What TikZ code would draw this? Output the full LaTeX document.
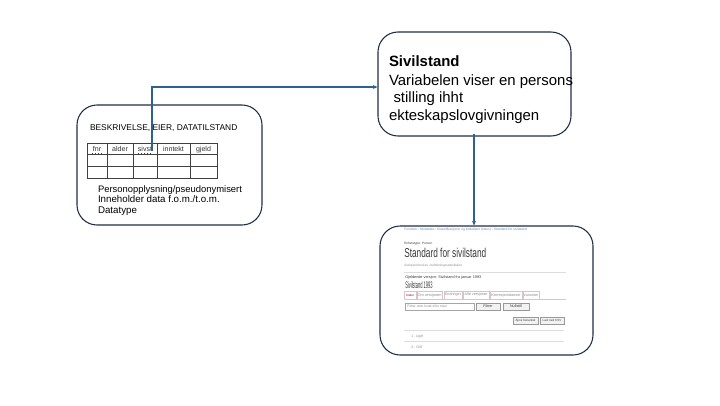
\documentclass[tikz,border=0pt]{standalone}
\usepackage{fontspec}
\usepackage{graphicx}
\setmainfont{Liberation Sans}
\usetikzlibrary{arrows.meta,decorations.pathmorphing}
\definecolor{navy}{HTML}{1F2F47}
\definecolor{arrowblue}{HTML}{2F6190}
\definecolor{shotgrey}{HTML}{8C8C8C}
\definecolor{shotdark}{HTML}{3A3A3A}
\definecolor{linkblue}{HTML}{7088A8}
\definecolor{tabline}{HTML}{D8C4CC}
\definecolor{rule}{HTML}{DDDDDD}
\newcommand{\fitw}[2]{\resizebox{#1}{!}{#2}}
\tikzset{
  panel/.style={draw=navy, line width=0.8pt, rounded corners=15pt, fill=white},
  conn/.style={draw=arrowblue, line width=0.8pt, -{Stealth[length=3.5pt,width=3pt]}},
  lbl/.style={anchor=base west, inner sep=0pt, outer sep=0pt},
  cell/.style={draw=black!75, line width=0.45pt},
  shottxt/.style={anchor=base west, inner sep=0pt, text=shotgrey},
  tabbox/.style={draw=tabline, line width=0.35pt},
  btn/.style={draw=black!40, fill=black!5, line width=0.35pt},
  spell/.style={draw=red!80!black, line width=0.3pt, dotted}
}
\begin{document}
\begin{tikzpicture}[x=0.75pt,y=-0.75pt]
\useasboundingbox (0,0) rectangle (720,405);
\fill[white] (0,0) rectangle (720,405);

% panels
\node[panel, minimum width=138.75pt, minimum height=90pt, inner sep=0pt] (box1) at (169.5,165) {};
\node[panel, minimum width=144.75pt, minimum height=78pt, inner sep=0pt] (box2) at (474.5,84) {};
\node[panel, minimum width=159.75pt, minimum height=96.75pt, inner sep=0pt] (box3) at (486.5,290.5) {};

% box 1 contents
\node[lbl, font=\fontsize{6.3pt}{7pt}\selectfont] (t1) at (90,130) {BESKRIVELSE, EIER, DATATILSTAND};
\draw[cell] (87,143) rectangle (217,178);
\draw[cell] (87,154) -- (217,154) (87,166) -- (217,166);
\draw[cell] (107,143) -- (107,178) (133,143) -- (133,178) (157,143) -- (157,178) (190,143) -- (190,178);
\begin{scope}[every node/.style={anchor=base, inner sep=0pt, font=\fontsize{5.3pt}{6pt}\selectfont, text=black!80}]
\node (h1) at (97,151.5) {fnr};
\node (h2) at (120,151.5) {alder};
\node (h3) at (145,151.5) {sivst};
\node (h4) at (173.5,151.5) {inntekt};
\node (h5) at (203.5,151.5) {gjeld};
\end{scope}
\draw[spell] (92,153) -- (102,153);
\draw[spell] (138,153) -- (152,153);
\begin{scope}[every node/.style={lbl, font=\fontsize{7.3pt}{8pt}\selectfont}]
\node (d1) at (98,192.5) {\fitw{108pt}{Personopplysning/pseudonymisert}};
\node (d2) at (98,202.8) {Inneholder data f.o.m./t.o.m.};
\node (d3) at (98,213) {Datatype};
\end{scope}

% box 2 contents
\begin{scope}[every node/.style={lbl, font=\fontsize{11.2pt}{13pt}\selectfont}]
\node[font=\fontsize{11.2pt}{13pt}\selectfont\bfseries] (s0) at (389,66) {Sivilstand};
\node (s1) at (389,85.5) {Variabelen viser en persons};
\node (s2) at (393.5,102.5) {stilling ihht};
\node (s3) at (389,120) {ekteskapslovgivningen};
\end{scope}

% box 3 contents (screenshot)
\node[shottxt, text=linkblue] (b1) at (404,230) {\fitw{92pt}{Forsiden › Metadata › Klassifikasjoner og kodelister (klass) › Standard for sivilstand}};
\node[shottxt, text=shotdark] (b2) at (404,244) {\fitw{21pt}{Enhetstype: Person}};
\node[shottxt, text=shotdark] (b3) at (404,257.5) {\resizebox{61.5pt}{7pt}{Standard for sivilstand}};
\node[shottxt] (b4) at (404,266) {\fitw{44pt}{Sivilstand brukes i befolkningsstatistikken.}};
\draw[rule, line width=0.4pt] (404,272) -- (566,272);
\node[shottxt, text=shotdark] (b5) at (405,278.5) {\fitw{57pt}{Gjeldende versjon: Sivilstand fra januar 1993}};
\node[shottxt, text=shotdark] (b6) at (405,288) {\resizebox{20.5pt}{5.2pt}{Sivilstand 1993}};
% tabs
\draw[tabline, line width=0.4pt] (404,299) -- (566,299);
\begin{scope}[every node/.style={anchor=center, inner sep=0pt, text=shotgrey}]
\draw[tabbox] (404,291) rectangle (416,299); \node[text=red!60!black] (k1) at (410,295) {\fitw{6pt}{Koder}};
\draw[tabbox] (417,291) rectangle (442,299); \node (k2) at (429.5,295) {\fitw{18pt}{Om versjonen}};
\draw[tabbox] (444,291) rectangle (462,299); \node (k3) at (453,295) {\fitw{12pt}{Endringer}};
\draw[tabbox] (463,291) rectangle (489,299); \node (k4) at (476,295) {\fitw{17pt}{Alle versjoner}};
\draw[tabbox] (490,291) rectangle (522,299); \node (k5) at (506,295) {\fitw{22pt}{Korrespondanser}};
\draw[tabbox] (523,291) rectangle (539,299); \node (k6) at (531,295) {\fitw{11pt}{Varianter}};
% filter row
\draw[draw=black!35, line width=0.35pt] (405,303) rectangle (474,310);
\node[anchor=west] (f0) at (407,306.5) {\fitw{30pt}{Filtrer etter kode eller navn}};
\draw[btn] (476,303) rectangle (500,310); \node[text=shotdark] (f1) at (488,306.5) {\fitw{7pt}{Filtrer}};
\draw[btn] (503,303) rectangle (529,310); \node[text=shotdark] (f2) at (516,306.5) {\fitw{9pt}{Nullstill}};
\draw[btn] (513,317) rectangle (538,324); \node[text=shotdark] (f3) at (525.5,320.5) {\fitw{15pt}{Åpne hierarkiet}};
\draw[btn] (540,317) rectangle (564,324); \node[text=shotdark] (f4) at (552,320.5) {\fitw{14pt}{Last ned CSV}};
\end{scope}
\draw[rule, line width=0.4pt] (404,330) -- (564,330);
\node[shottxt] (c1) at (411,337.5) {\fitw{9pt}{1 - Ugift}};
\draw[rule, line width=0.4pt] (404,341.5) -- (564,341.5);
\node[shottxt] (c2) at (411,348.5) {\fitw{8pt}{2 - Gift}};

% connectors
\coordinate (a1s) at (152,151);
\coordinate (a1k) at (152,87);
\draw[conn] (a1s) -- (a1k) -- (box2.west |- a1k);
\coordinate (a2s) at (474,134);
\draw[conn] (a2s) -- (box3.north -| a2s);
\end{tikzpicture}
\end{document}
